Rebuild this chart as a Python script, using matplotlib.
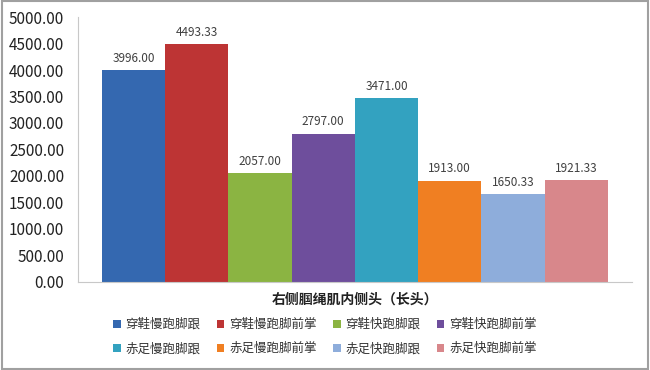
import numpy as np
import matplotlib.pyplot as plt
from matplotlib.patches import Rectangle

plt.rcParams['font.family'] = ['Noto Sans CJK SC', 'DejaVu Sans']

category = '右侧腘绳肌内侧头（长头）'
series = ['穿鞋慢跑脚跟', '穿鞋慢跑脚前掌', '穿鞋快跑脚跟', '穿鞋快跑脚前掌',
          '赤足慢跑脚跟', '赤足慢跑脚前掌', '赤足快跑脚跟', '赤足快跑脚前掌']
values = [3996.00, 4493.33, 2057.00, 2797.00, 3471.00, 1913.00, 1650.33, 1921.33]
colors = ['#3468B0', '#BD3434', '#8BB442', '#6E4E9C', '#33A2C0', '#F07F22',
          '#8EADDB', '#D8878B']

fig = plt.figure(figsize=(6.5, 3.7), dpi=100)
ax = fig.add_axes([0.12, 0.238, 0.852, 0.716])

handles = []
for i, (name, v, c) in enumerate(zip(series, values, colors)):
    b = ax.bar(i, v, width=1.0, color=c, label=name)
    handles.append(b)
    ax.text(i, v + 100, '%.2f' % v, ha='center', va='bottom', fontsize=8.5, color='#404040')

ax.set_ylim(0, 5000)
ax.set_yticks(np.arange(0, 5001, 500))
ax.set_yticklabels(['%.2f' % t for t in np.arange(0, 5001, 500)], fontsize=11, color='#222222')
ax.set_xlim(-0.88, 7.88)
ax.set_xticks([])
ax.set_xlabel(category, fontsize=10, fontweight='bold', labelpad=8, color='#222222')
ax.tick_params(axis='y', length=0, pad=10)
for s in ['top', 'right']:
    ax.spines[s].set_visible(False)
ax.spines['left'].set_color('#C8C8C8')
ax.spines['bottom'].set_color('#C8C8C8')

order = [0, 4, 1, 5, 2, 6, 3, 7]
leg = fig.legend([handles[i] for i in order], [series[i] for i in order],
                 ncol=4, loc='center', bbox_to_anchor=(0.5, 0.09), frameon=False,
                 fontsize=9, handlelength=0.6, handleheight=0.6, handletextpad=0.4,
                 columnspacing=1.3, labelspacing=0.9)
for t in leg.get_texts():
    t.set_color('#333333')

fig.patches.append(Rectangle((0.003, 0.004), 0.994, 0.992, transform=fig.transFigure,
                             fill=False, edgecolor='#A0A0A0', linewidth=1.5))

fig.savefig('out.png', dpi=100)
